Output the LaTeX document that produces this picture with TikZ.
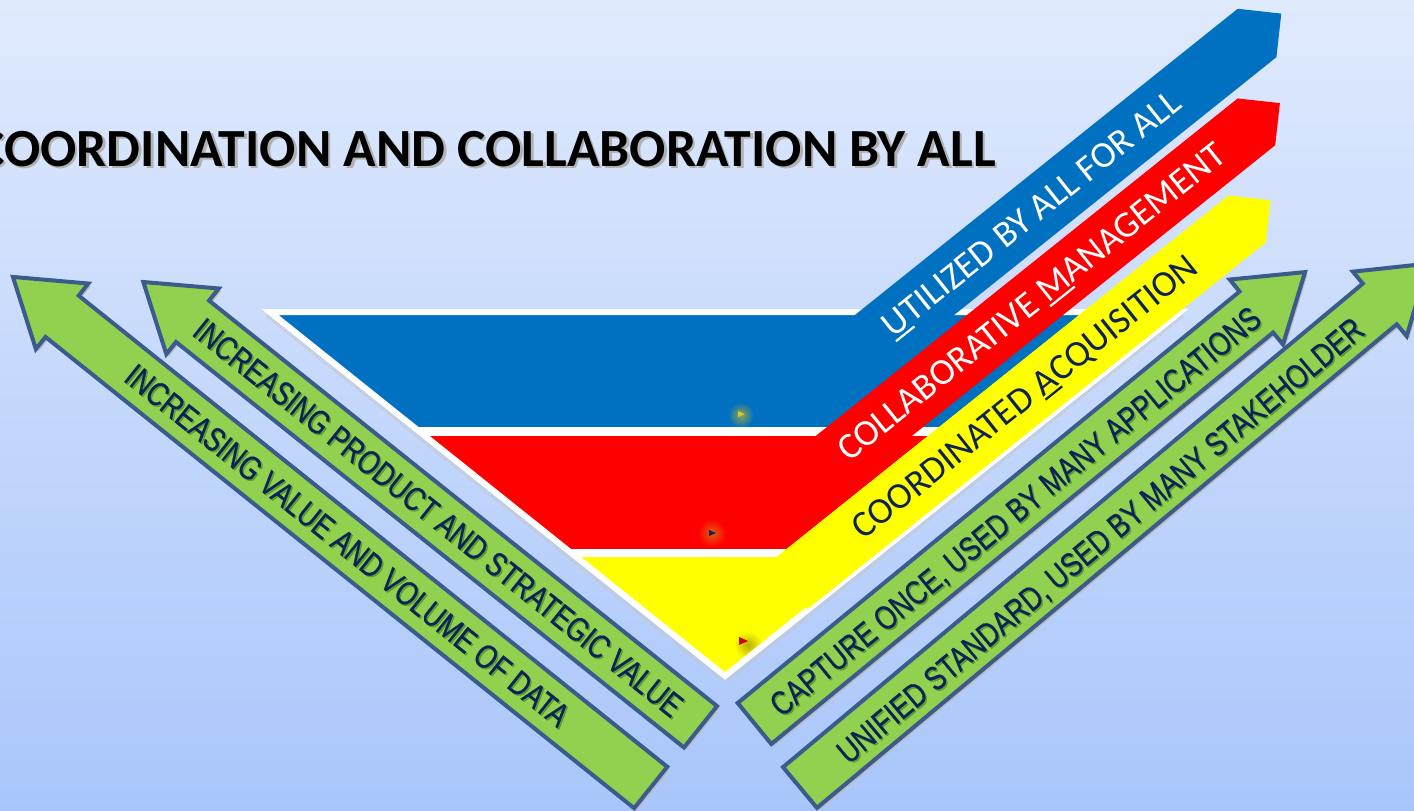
\documentclass[tikz,border=0pt]{standalone}
\usepackage{fontspec}
\setmainfont{Carlito}
\newfontfamily\greenfont[FakeStretch=0.79,FakeBold=0.6]{Liberation Sans}
\definecolor{bgtop}{HTML}{E0EAFD}
\definecolor{bgbot}{HTML}{A9C6FB}
\definecolor{fblue}{HTML}{0070C0}
\definecolor{fred}{HTML}{FF0000}
\definecolor{fyellow}{HTML}{FFFF00}
\definecolor{fgreen}{HTML}{92D050}
\definecolor{goutline}{HTML}{3A5B8C}
\definecolor{navy}{HTML}{0D2257}
\definecolor{glowa}{HTML}{8FA050}
\definecolor{glowb}{HTML}{E06010}
\definecolor{glowc}{HTML}{B8B000}
\newcommand\ulmark[1]{\setbox0\hbox{#1}\rlap{\rule[-4.5pt]{\wd0}{2.2pt}}\box0}
\tikzset{
  titletext/.style={font=\fontsize{53.7}{54}\selectfont\bfseries, inner sep=0pt, anchor=base east},
  bandtext/.style={font=\fontsize{37}{37}\selectfont, inner sep=0pt, text height=23.5pt, text depth=0pt, anchor=center},
  greentext/.style={font=\greenfont\fontsize{33.5}{33.5}\selectfont, text=navy, inner sep=0pt, text height=24pt, text depth=0pt, anchor=center},
  greenshadow/.style={greentext, text=black!70!green, text opacity=0.35},
  garrow/.style={fill=fgreen, draw=goutline, line width=4pt, line join=miter},
  gshadow/.style={fill=gray!55},
  sepline/.style={white, line width=8pt},
  bevel/.style={gray!45, line width=2.5pt, dash pattern=on 1.2pt off 1.2pt},
}
\begin{document}
\begin{tikzpicture}[x=1pt,y=-1pt]
\useasboundingbox (0,0) rectangle (1414,811);
\clip (0,0) rectangle (1414,811);
\shade[top color=bgtop,bottom color=bgbot] (0,0) rectangle (1414,811);

% title
\node[titletext, text=gray!60] (titleshadow) at (998.5,168.5) {COORDINATION AND COLLABORATION BY ALL};
\node[titletext, text=black] (title) at (996,166) {COORDINATION AND COLLABORATION BY ALL};

% funnel
\coordinate (TL) at (270,312);
\coordinate (TR) at (1180,312);
\coordinate (AP) at (725,676);
\draw[bevel] (267,316) -- (722,680);
\draw[bevel] (1183,316) -- (728,680);
\begin{scope}
  \clip (TL) -- (TR) -- (AP) -- cycle;
  \fill[fblue] (250,300) rectangle (1200,432);
  \fill[fred] (250,432) rectangle (1200,553);
  \fill[fyellow] (250,553) rectangle (1200,690);
  \shade[inner color=glowa, outer color=fblue] (741,415) circle (13pt);
  \fill[yellow!80!black] (738,411) -- (745,414) -- (738,417) -- cycle;
  \shade[inner color=glowb, outer color=fred] (712,533) circle (14pt);
  \fill[navy] (709,530) -- (716,533) -- (709,536) -- cycle;
  \shade[inner color=glowc, outer color=fyellow] (748,645) circle (14pt);
  \fill[red!80!black] (739,637) -- (748,641) -- (739,645) -- cycle;
  \draw[sepline, line width=9pt] (250,431.5) -- (1200,431.5);
  \draw[sepline] (250,553) -- (1200,553);
\end{scope}
\draw[white, line width=6pt, line join=miter] (TL) -- (TR) -- (AP) -- cycle;

% band arrows in (t,s) coordinates
\begin{scope}[x={(0.7809pt,0.6247pt)}, y={(0.6247pt,-0.7809pt)}]
  \fill[fblue] (420,780) -- (961,780) -- (992,811) -- (961,842) -- (420,842) -- cycle;
  \fill[fred] (310,850) -- (905,850) -- (935,880) -- (905,910) -- (310,910) -- cycle;
  \fill[fyellow] (250,920) -- (837,920) -- (867,950) -- (837,980) -- (250,980) -- cycle;
  \node[bandtext, text=white, rotate=38.66] (tblue) at (672,811) {\ulmark{U}TILIZED BY ALL FOR ALL};
  \node[bandtext, text=white, rotate=38.66] (tred) at (617,880) {COLLABORATIVE \ulmark{M}ANAGEMENT};
  \node[bandtext, text=navy, rotate=38.66] (tyellow) at (552,950) {COORDINATED \ulmark{A}CQUISITION};
\end{scope}

% green arrows: shadows
\begin{scope}[shift={(653.2,790)}, rotate=141.32]
  \fill[gshadow] (0,-26.5) -- (754,-26.5) -- (754,-42) -- (817,0) -- (754,42) -- (754,26.5) -- (0,26.5) -- cycle;
\end{scope}
\begin{scope}[shift={(703,729.3)}, rotate=141.4]
  \fill[gshadow] (0,-26.5) -- (650,-26.5) -- (650,-42) -- (713,0) -- (650,42) -- (650,26.5) -- (0,26.5) -- cycle;
\end{scope}
\begin{scope}[shift={(757,726)}, rotate=39.35]
  \fill[gshadow] (0,-26.5) -- (649,-26.5) -- (649,-42) -- (712,0) -- (649,42) -- (649,26.5) -- (0,26.5) -- cycle;
\end{scope}
\begin{scope}[shift={(802.5,790)}, rotate=39.83]
  \fill[gshadow] (0,-26.5) -- (755,-26.5) -- (755,-42) -- (818,0) -- (755,42) -- (755,26.5) -- (0,26.5) -- cycle;
\end{scope}
% green arrows
\begin{scope}[shift={(650.7,787.5)}, rotate=141.32]
  \draw[garrow] (0,-26.5) -- (754,-26.5) -- (754,-42) -- (817,0) -- (754,42) -- (754,26.5) -- (0,26.5) -- cycle;
\end{scope}
\begin{scope}[shift={(700.5,726.8)}, rotate=141.4]
  \draw[garrow] (0,-26.5) -- (650,-26.5) -- (650,-42) -- (713,0) -- (650,42) -- (650,26.5) -- (0,26.5) -- cycle;
\end{scope}
\begin{scope}[shift={(754.5,723.5)}, rotate=39.35]
  \draw[garrow] (0,-26.5) -- (649,-26.5) -- (649,-42) -- (712,0) -- (649,42) -- (649,26.5) -- (0,26.5) -- cycle;
\end{scope}
\begin{scope}[shift={(800,787.5)}, rotate=39.83]
  \draw[garrow] (0,-26.5) -- (755,-26.5) -- (755,-42) -- (818,0) -- (755,42) -- (755,26.5) -- (0,26.5) -- cycle;
\end{scope}

\node[greenshadow, rotate=-38.66] (gl1s) at (349,546.5) {INCREASING VALUE AND VOLUME OF DATA};
\node[greenshadow, rotate=-38.66] (gl2s) at (440,518.7) {INCREASING PRODUCT AND STRATEGIC VALUE};
\node[greenshadow, rotate=39.35] (gr1s) at (1016.5,512.5) {CAPTURE ONCE, USED BY MANY APPLICATIONS};
\node[greenshadow, rotate=39.83] (gr2s) at (1101.5,541.5) {UNIFIED STANDARD, USED BY MANY STAKEHOLDER};
\node[greentext, rotate=-38.66] (gl1) at (347.5,545) {INCREASING VALUE AND VOLUME OF DATA};
\node[greentext, rotate=-38.66] (gl2) at (438.5,517.2) {INCREASING PRODUCT AND STRATEGIC VALUE};
\node[greentext, rotate=39.35] (gr1) at (1015,511) {CAPTURE ONCE, USED BY MANY APPLICATIONS};
\node[greentext, rotate=39.83] (gr2) at (1100,540) {UNIFIED STANDARD, USED BY MANY STAKEHOLDER};
\end{tikzpicture}
\end{document}
